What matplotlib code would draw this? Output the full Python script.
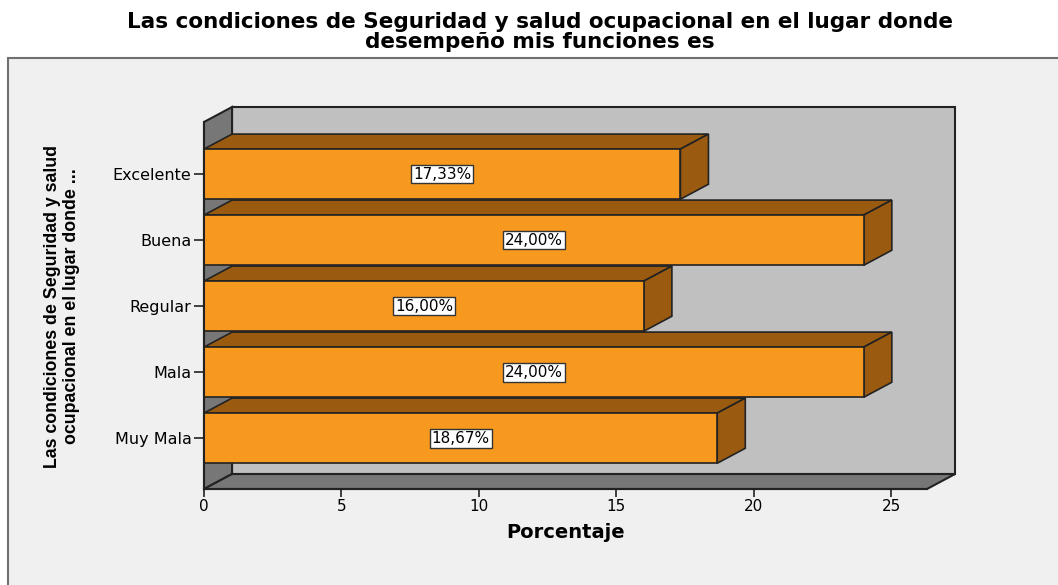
import matplotlib
matplotlib.use("Agg")
import matplotlib.pyplot as plt
from matplotlib.patches import Rectangle, Polygon

# Data
categorias = ["Muy Mala", "Mala", "Regular", "Buena", "Excelente"]
porcentajes = [18.67, 24.00, 16.00, 24.00, 17.33]
etiquetas = ["18,67%", "24,00%", "16,00%", "24,00%", "17,33%"]
xticks = [0, 5, 10, 15, 20, 25]

titulo = "Las condiciones de Seguridad y salud ocupacional en el lugar donde\ndesempeño mis funciones es"
ylabel = "Las condiciones de Seguridad y salud\nocupacional en el lugar donde ..."

plt.rcParams['font.family'] = ['DejaVu Sans']

W, H = 1058, 585
fig = plt.figure(figsize=(W / 100, H / 100), dpi=100)
fig.patch.set_facecolor("white")

# gray chart frame
fig.patches.append(Rectangle((8 / W, -0.1), 1.2, 0.1 + (H - 58) / H, transform=fig.transFigure,
                             facecolor="#f0f0f0", edgecolor="#707070", lw=1.5, zorder=-10))

ax = fig.add_axes([204 / W, 96 / H, 723 / W, 367 / H])
ax.set_facecolor("none")
xmax = 26.3
ylo, yhi = -0.77, 4.79
ax.set_xlim(0, xmax)
ax.set_ylim(ylo, yhi)

dx, dy = 1.02, 0.227  # 3D depth offset
edge = "#222222"

# back wall, left wall, floor
ax.add_patch(Rectangle((dx, ylo + dy), xmax, yhi - ylo, facecolor="#c0c0c0",
                       edgecolor=edge, lw=1.5, clip_on=False, zorder=1))
ax.add_patch(Polygon([(0, ylo), (dx, ylo + dy), (dx, yhi + dy), (0, yhi)], closed=True,
                     facecolor="#777777", edgecolor=edge, lw=1.5, clip_on=False, zorder=1))
ax.add_patch(Polygon([(0, ylo), (xmax, ylo), (xmax + dx, ylo + dy), (dx, ylo + dy)], closed=True,
                     facecolor="#777777", edgecolor=edge, lw=1.5, clip_on=False, zorder=1))

h = 0.76
front = "#f8991f"
dark = "#9a5b10"
for i in range(len(categorias) - 1, -1, -1):
    y = i
    v = porcentajes[i]
    z = 2 + (len(categorias) - i)
    ax.add_patch(Polygon([(0, y + h / 2), (v, y + h / 2), (v + dx, y + h / 2 + dy), (dx, y + h / 2 + dy)],
                         closed=True, facecolor=dark, edgecolor=edge, lw=1.2, clip_on=False, zorder=z))
    ax.add_patch(Polygon([(v, y - h / 2), (v + dx, y - h / 2 + dy), (v + dx, y + h / 2 + dy), (v, y + h / 2)],
                         closed=True, facecolor=dark, edgecolor=edge, lw=1.2, clip_on=False, zorder=z))
    ax.add_patch(Rectangle((0, y - h / 2), v, h, facecolor=front, edgecolor=edge, lw=1.2,
                           clip_on=False, zorder=z))
    ax.text(v / 2, y, etiquetas[i], ha="center", va="center", fontsize=11, zorder=20,
            bbox=dict(boxstyle="square,pad=0.12", facecolor="white", edgecolor="#333333", lw=1))

for s in ["top", "right"]:
    ax.spines[s].set_visible(False)
for s in ["left", "bottom"]:
    ax.spines[s].set_color(edge)
    ax.spines[s].set_linewidth(1.5)
    ax.spines[s].set_zorder(15)

ax.set_yticks(range(len(categorias)), categorias, fontsize=11.5)
ax.set_xticks(xticks, [str(t) for t in xticks], fontsize=11)
ax.tick_params(axis="y", length=7, width=1.2, color=edge, pad=2)
ax.tick_params(axis="x", length=6, width=1.2, color=edge, pad=1)
ax.set_xlabel("Porcentaje", fontsize=14, fontweight="bold", labelpad=7)

fig.text(540 / W, 1 - 32 / H, titulo, ha="center", va="center", fontsize=15.5,
         fontweight="bold", linespacing=0.98)
fig.text(62 / W, 1 - 306 / H, ylabel, ha="center", va="center", rotation=90,
         fontsize=12.8, fontweight="bold", linespacing=1.1,
         family=["Liberation Sans", "DejaVu Sans"])

fig.savefig("out.png", dpi=100)
